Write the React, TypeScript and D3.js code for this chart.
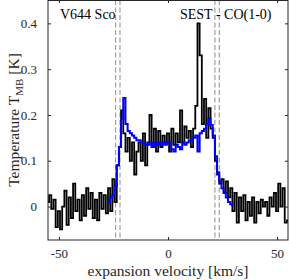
import * as d3 from "d3"
import { useEffect, useRef } from "react"

const W = 289
const H = 280
const margin = { top: 0, right: 1, bottom: 40, left: 48 }
const FONT = "'Liberation Serif', 'DejaVu Serif', serif"

// observed spectrum, 1 km/s channels from -55 to 55
const obsStart = -55
const obsValues = [
  0.01, 0.025, -0.005, 0.015, -0.045, -0.01, -0.05, 0.0, 0.035, -0.04,
  0.02, -0.025, 0.05, -0.01, 0.015, -0.03, 0.025, -0.02, 0.04, -0.005,
  0.03, -0.025, 0.015, -0.03, 0.03, -0.005, 0.025, -0.015, 0.04, -0.01,
  0.06, 0.01, 0.09, 0.13, 0.21, 0.16, 0.12, 0.15, 0.1, 0.14,
  0.07, 0.12, 0.14, 0.1, 0.16, 0.09, 0.14, 0.2, 0.13, 0.17,
  0.12, 0.165, 0.13, 0.155, 0.14, 0.16, 0.12, 0.17, 0.135, 0.16,
  0.14, 0.21, 0.14, 0.175, 0.15, 0.165, 0.13, 0.17, 0.22, 0.4,
  0.33, 0.18, 0.235, 0.15, 0.215, 0.17, 0.15, 0.1, 0.07, 0.05,
  0.06, 0.03, 0.055, 0.02, 0.04, -0.01, 0.03, -0.035, 0.02, -0.01,
  0.025, -0.03, 0.01, -0.02, 0.02, -0.035, 0.01, -0.015, 0.015, 0.0,
  0.01, -0.02, 0.02, 0.0, 0.03, -0.01, 0.05, 0.0, 0.04, -0.035,
  -0.03,
]

// model profile, 1 km/s channels from -28 to 30
const modelStart = -28
const modelValues = [
  0.01, 0.01, 0.02, 0.025, 0.045, 0.09, 0.13, 0.19, 0.237, 0.18,
  0.165, 0.16, 0.155, 0.15, 0.145, 0.145, 0.14, 0.14, 0.135, 0.135,
  0.14, 0.13, 0.14, 0.135, 0.14, 0.135, 0.14, 0.135, 0.14, 0.14,
  0.125, 0.12, 0.135, 0.13, 0.125, 0.14, 0.135, 0.14, 0.145, 0.145,
  0.15, 0.155, 0.12, 0.16, 0.165, 0.17, 0.18, 0.193, 0.178, 0.155,
  0.11, 0.075, 0.055, 0.04, 0.03, 0.02, 0.01, 0.005, 0.003,
]

const dashedLines = [-24, -22, 21.5, 23.5]
const xTicks = [-50, 0, 50]
const yTicks = [0, 0.1, 0.2, 0.3, 0.4]

export default function App() {
  const svgRef = useRef<SVGSVGElement | null>(null)

  useEffect(() => {
    if (!svgRef.current) return
    const svg = d3.select(svgRef.current)
    svg.selectAll("*").remove()

    const iw = W - margin.left - margin.right
    const ih = H - margin.top - margin.bottom
    const x = d3.scaleLinear().domain([-55, 55]).range([0, iw])
    const y = d3.scaleLinear().domain([-0.073, 0.451]).range([ih, 0])

    const g = svg.append("g").attr("transform", `translate(${margin.left},${margin.top})`)

    g.append("defs")
      .append("clipPath")
      .attr("id", "plotclip")
      .append("rect")
      .attr("width", iw)
      .attr("height", ih)

    // dashed markers
    g.selectAll("line.dash")
      .data(dashedLines)
      .enter()
      .append("line")
      .attr("x1", (d) => x(d))
      .attr("x2", (d) => x(d))
      .attr("y1", 0)
      .attr("y2", ih)
      .attr("stroke", "#8c8c8c")
      .attr("stroke-width", 1)
      .attr("stroke-dasharray", "5,2.5")

    const line = d3
      .line<[number, number]>()
      .x((d) => x(d[0]))
      .y((d) => y(d[1]))
      .curve(d3.curveStep)

    const obs: [number, number][] = obsValues.map((v, i) => [obsStart + i, v])
    const model: [number, number][] = modelValues.map((v, i) => [modelStart + i, v])

    g.append("path")
      .attr("d", line(obs))
      .attr("fill", "none")
      .attr("stroke", "#000")
      .attr("stroke-width", 1.8)
      .attr("clip-path", "url(#plotclip)")

    g.append("path")
      .attr("d", line(model))
      .attr("fill", "none")
      .attr("stroke", "#0000ff")
      .attr("stroke-width", 2)
      .attr("clip-path", "url(#plotclip)")

    // axes with inward ticks
    const styleAxis = (sel: any) => {
      sel.select(".domain").remove()
      sel.selectAll("line").attr("stroke", "#262626")
      sel.selectAll("text").attr("fill", "#262626").style("font-family", FONT).style("font-size", "13px")
    }

    g.append("g")
      .attr("transform", `translate(0,${ih})`)
      .call(d3.axisBottom(x).tickValues(xTicks).tickSize(-3).tickPadding(9).tickFormat(d3.format("d")))
      .call(styleAxis)
    g.append("g")
      .call(d3.axisTop(x).tickValues(xTicks).tickSize(-3).tickFormat(() => ""))
      .call(styleAxis)
    g.append("g")
      .call(d3.axisLeft(y).tickValues(yTicks).tickSize(-3).tickPadding(11).tickFormat((d: any) => (d === 0 ? "0" : d3.format(".1f")(d))))
      .call(styleAxis)
    g.append("g")
      .attr("transform", `translate(${iw},0)`)
      .call(d3.axisRight(y).tickValues(yTicks).tickSize(-3).tickFormat(() => ""))
      .call(styleAxis)

    g.selectAll(".tick text").text(function () {
      return (d3.select(this).text() as string).replace("−", "-")
    })

    g.append("rect")
      .attr("x", 0)
      .attr("y", 0.5)
      .attr("width", iw)
      .attr("height", ih - 0.5)
      .attr("fill", "none")
      .attr("stroke", "#262626")
      .attr("stroke-width", 1)

    // annotations
    g.append("text")
      .attr("x", 60 - margin.left)
      .attr("y", 19)
      .text("V644 Sco")
      .style("font-family", FONT)
      .style("font-size", "14px")
      .attr("fill", "#000")

    g.append("text")
      .attr("x", 180 - margin.left)
      .attr("y", 19)
      .text("SEST - CO(1-0)")
      .style("font-family", FONT)
      .style("font-size", "14px")
      .attr("fill", "#000")

    // axis labels
    svg.append("text")
      .attr("x", margin.left + iw / 2)
      .attr("y", 276)
      .attr("text-anchor", "middle")
      .text("expansion velocity [km/s]")
      .style("font-family", FONT)
      .style("font-size", "15.5px")
      .attr("fill", "#262626")

    const yl = svg.append("text")
      .attr("transform", `translate(19,${ih / 2}) rotate(-90)`)
      .attr("text-anchor", "middle")
      .style("font-family", FONT)
      .style("font-size", "15.5px")
      .attr("fill", "#262626")
    yl.append("tspan").text("Temperature T")
    yl.append("tspan").attr("dy", 4).style("font-size", "11px").text("MB")
    yl.append("tspan").attr("dy", -4).text(" [K]")
  }, [])

  return (
    <svg
      ref={svgRef}
      width={W}
      height={H}
      style={{ position: "absolute", left: 0, top: 0, background: "#fff" }}
    />
  )
}
